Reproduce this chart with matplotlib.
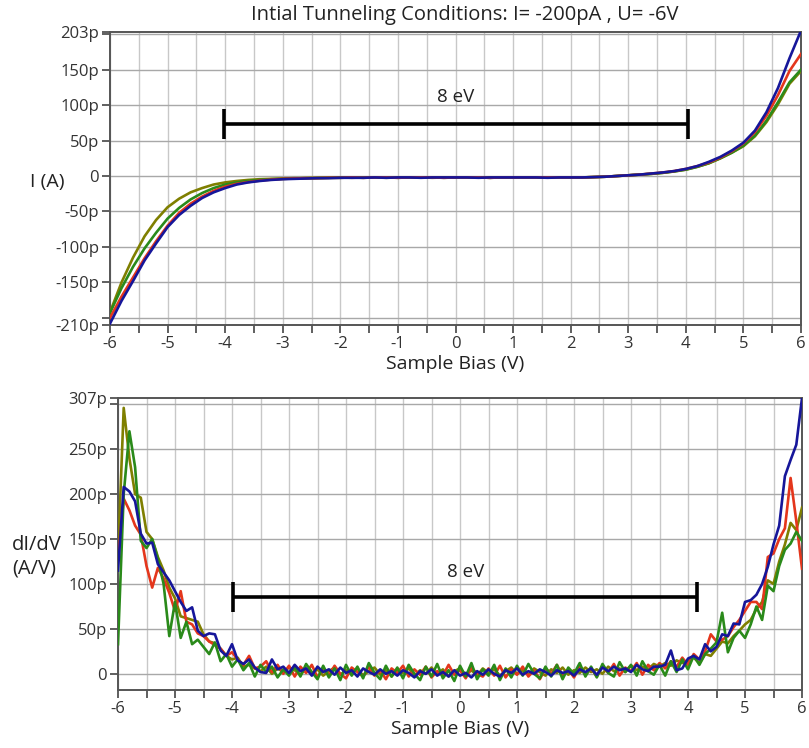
import numpy as np
import matplotlib.pyplot as plt
from matplotlib.ticker import FixedLocator

plt.rcParams['font.family'] = ['Open Sans', 'DejaVu Sans']

# ---- I(V), sampled every 0.2 V from -6 to 6 (pA) ----
iv_bias = np.linspace(-6.0, 6.0, 61)
iv_olive = [-192, -150, -115, -85, -62, -44, -32, -23, -17, -12,
            -9, -7, -5.5, -4.5, -4, -3.5, -3, -3, -2.5, -2.5,
            -2, -2.5, -2, -2, -2.5, -2, -2, -2, -2.5, -2,
            -2, -2, -2, -2.5, -2, -2, -2, -2, -2, -2,
            -2, -2, -1.5, -1, 0, 1, 2, 3, 4.5, 6.5,
            9, 13, 18, 25, 33, 42, 56, 76, 101, 130,
            148]
iv_green = [-193, -158, -128, -102, -80, -60, -45, -33, -24, -17,
            -12, -9, -7, -5.5, -4.5, -4, -3.5, -3, -3, -2.5,
            -2.5, -2, -2.5, -2, -2, -2.5, -2, -2, -2, -2.5,
            -2, -2, -2, -2.5, -2, -2, -2, -2, -2, -2,
            -2, -2, -1.5, -1, 0, 1, 2, 3, 4.5, 6.5,
            9, 13, 18, 25, 33, 43, 57, 78, 104, 132,
            150]
iv_red = [-200, -170, -143, -116, -92, -70, -52, -39, -29, -21,
          -15, -11, -8.5, -6.5, -5, -4, -3.5, -3, -3, -2.5,
          -2.5, -2, -2.5, -2, -2, -2.5, -2, -2, -2, -2.5,
          -2, -2, -2, -2.5, -2, -2, -2, -2, -2, -2,
          -2, -2, -1.5, -1, 0, 1, 2, 3.5, 5, 7,
          10, 14, 19, 26, 35, 46, 62, 85, 114, 148,
          172]
iv_blue = [-208, -176, -148, -119, -95, -72, -55, -42, -31, -23,
           -17, -12, -9, -7, -5.5, -4.5, -4, -3.5, -3, -3,
           -2.5, -2.5, -2.5, -2, -2.5, -2, -2, -2.5, -2, -2,
           -2, -2, -2.5, -2, -2, -2, -2, -2, -2.5, -2,
           -2, -2, -1.5, -1, 0, 1, 2, 3.5, 5, 7,
           10, 14, 20, 27, 36, 47, 64, 90, 124, 166,
           205]

# ---- dI/dV, sampled every 0.1 V from -6 to 6 (pA/V) ----
didv_bias = np.linspace(-6.0, 6.0, 121)
didv_olive = [130, 296, 240, 200, 196, 158, 150, 130, 115, 96,
              84, 64, 62, 60, 58, 44, 36, 34, 28, 20,
              16, 18, 8, 10, 6, 3, 8, 0, 6, 2,
              7, 4, -1, 6, 0, 5, -2, 3, 7, -1,
              4, 0, 6, -2, 3, 7, -1, 4, -3, 5,
              1, 6, -2, 4, 0, 7, -1, 5, -3, 3,
              6, -1, 4, -2, 6, 1, 5, -2, 3, 7,
              0, 4, -1, 6, 2, -2, 5, 1, 7, -1,
              4, 1, 7, 2, 5, 0, 8, 3, 6, 2,
              9, 4, 8, 5, 11, 8, 12, 9, 15, 12,
              14, 18, 12, 22, 20, 28, 36, 34, 42, 48,
              55, 60, 72, 80, 104, 100, 125, 144, 168, 160,
              185]
didv_red = [128, 195, 182, 165, 155, 120, 96, 118, 106, 90,
            70, 92, 58, 55, 45, 42, 36, 32, 28, 20,
            24, 16, 10, 20, 6, 8, 14, 2, 10, 0,
            9, -3, 8, 1, 10, -4, 6, -2, 9, 0,
            -5, 7, 2, -3, 8, -2, 4, -6, 6, 1,
            9, -3, 5, -1, 8, -4, 3, -2, 10, -1,
            4, -5, 7, 0, -3, 6, -2, 9, -4, 5,
            -1, 8, -3, 4, -6, 6, 0, 10, -2, 5,
            -4, 8, -1, 6, -3, 9, 1, 11, -2, 7,
            3, 12, -1, 10, 4, 12, 6, 14, 8, 18,
            10, 22, 16, 25, 44, 36, 38, 42, 52, 60,
            70, 80, 80, 72, 130, 134, 150, 162, 218, 170,
            117]
didv_green = [33, 200, 270, 230, 148, 140, 150, 128, 100, 42,
              80, 40, 58, 33, 38, 30, 22, 35, 14, 22,
              8, 16, 4, 12, -3, 10, 2, 8, -4, 5,
              -2, 8, -3, 11, 2, -6, 9, -4, 6, -7,
              10, -2, 8, -5, 12, 1, -6, 9, -3, 7,
              -5, 10, 0, -7, 8, -3, 11, -5, 4, -8,
              9, -3, 12, -6, 5, -2, 10, -7, 6, -4,
              9, -2, 11, 0, -5, 8, -3, 10, -6, 7,
              0, 12, -3, 8, -4, 11, 1, -3, 13, 2,
              10, -2, 14, 3, -1, 10, -2, 14, 2, 16,
              5, 20, 10, 22, 28, 35, 68, 24, 40, 48,
              40, 55, 75, 60, 98, 92, 120, 138, 145, 158,
              148]
didv_blue = [115, 208, 203, 192, 156, 145, 146, 122, 113, 104,
             92, 80, 70, 74, 48, 42, 45, 44, 26, 20,
             33, 15, 11, 16, 7, 2, 1, 16, 5, 8,
             1, 10, 3, 6, -2, 8, 2, 5, -1, 7,
             1, 4, -3, 6, 2, -1, 5, 0, 3, -2,
             4, 1, -4, 3, 0, 5, -2, 2, -3, 4,
             -2, 1, -4, 3, -1, 5, 0, -3, 4, 1,
             6, -1, 3, 0, 5, 2, -2, 4, 1, 3,
             -2, 5, 2, 6, -1, 7, 3, 8, 4, 6,
             2, 10, 5, 3, 8, 8, 10, 26, 4, 6,
             17, 20, 16, 33, 25, 30, 44, 42, 56, 55,
             80, 82, 88, 100, 119, 144, 165, 220, 238, 255,
             307]

# 8 eV markers: (left V, right V, height in p-units)
bar_top = (-4.02, 4.03, 74)
bar_bottom = (-3.98, 4.16, 86)

colors = {'olive': '#7f7f00', 'green': '#2a8a1a', 'red': '#e4361c', 'blue': '#16169a'}

top_ticks = [-210, -150, -100, -50, 0, 50, 100, 150, 203]
top_labels = ['-210p', '-150p', '-100p', '-50p', '0', '50p', '100p', '150p', '203p']
bot_ticks = [0, 50, 100, 150, 200, 250, 307]
bot_labels = ['0', '50p', '100p', '150p', '200p', '250p', '307p']
x_major = list(range(-6, 7))
x_minor = [v + 0.5 for v in range(-6, 6)]

W, H = 809, 748
fig = plt.figure(figsize=(W / 100, H / 100), dpi=100)
ax1 = fig.add_axes([110 / W, 1 - 325 / H, 691 / W, 293 / H])
ax2 = fig.add_axes([118 / W, 1 - 690 / H, 684 / W, 292 / H])


def style(ax, ylim, ticks, labels):
    ax.set_xlim(-6, 6)
    ax.set_ylim(*ylim)
    ax.set_xticks(x_major)
    ax.set_xticklabels([str(v) for v in x_major])
    ax.xaxis.set_minor_locator(FixedLocator(x_minor))
    ax.set_yticks(ticks)
    ax.set_yticklabels(labels)
    hlines = [v for v in range(-200, 301, 50) if ylim[0] < v < ylim[1]]
    ax.yaxis.set_minor_locator(FixedLocator(hlines))
    ax.tick_params(axis='both', which='both', direction='out', length=6, width=1.2,
                   color='#444444', labelsize=12, labelcolor='#333333', pad=2)
    for v in x_major + x_minor:
        ax.axvline(v, color='#c8c8c8', lw=1.0, zorder=0)
    for v in hlines:
        ax.axhline(v, color='#a8a8a8', lw=1.0, zorder=0)
    for s in ax.spines.values():
        s.set_color('#555555')
        s.set_linewidth(1.4)
    ax.set_xlabel('Sample Bias (V)', fontsize=14, color='#222222', labelpad=2)


style(ax1, (-210, 203), top_ticks, top_labels)
style(ax2, (-18, 307), bot_ticks, bot_labels)

# top panel: I(V)
for name, vals in [('olive', iv_olive), ('green', iv_green), ('red', iv_red), ('blue', iv_blue)]:
    ax1.plot(iv_bias, vals, color=colors[name], lw=1.9, zorder=3)

# bottom panel: dI/dV
for name, vals in [('olive', didv_olive), ('red', didv_red), ('green', didv_green), ('blue', didv_blue)]:
    ax2.plot(didv_bias, vals, color=colors[name], lw=1.9, zorder=3)

for ax, (x0, x1, y), ty in [(ax1, bar_top, 111), (ax2, bar_bottom, 113)]:
    ax.errorbar((x0 + x1) / 2, y, xerr=(x1 - x0) / 2, fmt='none', ecolor='black',
                elinewidth=2.6, capsize=11, capthick=2.6, zorder=4)
    ax.text((x0 + x1) / 2, ty, '8 eV', ha='center', va='center', fontsize=13.5, color='#222222')

fig.text(465 / W, 1 - 15 / H, 'Intial Tunneling Conditions: I= -200pA , U= -6V',
         ha='center', va='center', fontsize=14.5, color='#222222')
fig.text(47 / W, 1 - 182 / H, 'I (A)', ha='center', va='center', fontsize=14, color='#222222')
fig.text(12 / W, 1 - 557 / H, 'dI/dV\n(A/V)', ha='left', va='center', fontsize=14.5,
         color='#222222', linespacing=1.25)

fig.savefig('out.png', dpi=100)
